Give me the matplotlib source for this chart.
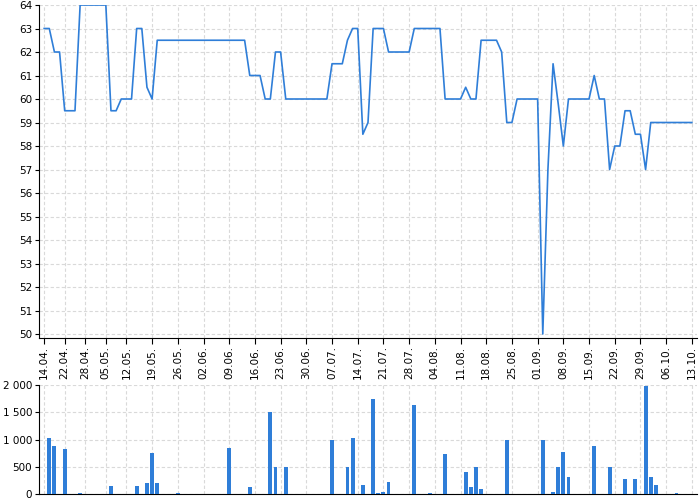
import matplotlib
matplotlib.use("Agg")
import matplotlib.pyplot as plt
from matplotlib.ticker import FuncFormatter

# ---- data ----
price = [63, 63, 62, 62, 59.5, 59.5, 59.5, 64, 64, 64, 64, 64, 64, 59.5, 59.5,
         60, 60, 60, 63, 63, 60.5, 60,
         62.5, 62.5, 62.5, 62.5, 62.5, 62.5, 62.5, 62.5, 62.5, 62.5, 62.5, 62.5,
         62.5, 62.5, 62.5, 62.5, 62.5, 62.5,
         61, 61, 61, 60, 60, 62, 62,
         60, 60, 60, 60, 60, 60, 60, 60, 60,
         61.5, 61.5, 61.5, 62.5, 63, 63, 58.5, 59, 63, 63, 63,
         62, 62, 62, 62, 62,
         63, 63, 63, 63, 63, 63,
         60, 60, 60, 60, 60.5, 60, 60,
         62.5, 62.5, 62.5, 62.5, 62, 59, 59,
         60, 60, 60, 60, 60, 50, 57, 61.5, 59.8, 58,
         60, 60, 60, 60, 60, 61, 60, 60, 57, 58, 58, 59.5, 59.5, 58.5, 58.5, 57,
         59, 59, 59, 59, 59, 59, 59, 59, 59]

volume_points = {1: 1020, 2: 880, 4: 830, 7: 10, 13: 150, 18: 150, 20: 200,
                 21: 750, 22: 200, 24: 5, 26: 15, 36: 850, 40: 120, 43: 5,
                 44: 1500, 45: 500, 47: 500, 56: 1000, 59: 500, 60: 1030,
                 62: 165, 64: 1740, 65: 20, 66: 45, 67: 215, 72: 1630, 75: 15,
                 78: 725, 82: 400, 83: 120, 84: 500, 85: 85, 90: 1000,
                 97: 1000, 99: 45, 100: 500, 101: 770, 102: 320, 107: 880,
                 110: 500, 113: 270, 115: 280, 117: 1990, 118: 320, 119: 165,
                 123: 25}
volume = [volume_points.get(i, 0) for i in range(len(price))]

tick_labels = ["14.04.", "22.04.", "28.04.", "05.05.", "12.05.", "19.05.",
               "26.05.", "02.06.", "09.06.", "16.06.", "23.06.", "30.06.",
               "07.07.", "14.07.", "21.07.", "28.07.", "04.08.", "11.08.",
               "18.08.", "25.08.", "01.09.", "08.09.", "15.09.", "22.09.",
               "29.09.", "06.10.", "13.10."]
tick_index = [0, 4, 8, 12, 16, 21, 26, 31, 36, 41, 46, 51, 56, 61, 66, 71,
              76, 81, 86, 91, 96, 101, 106, 111, 116, 121, 126]

x = list(range(len(price)))
color = "#2f7ed8"
grid_kw = dict(color="#d9d9d9", linestyle=(0, (3, 2)), linewidth=0.8)

fig = plt.figure(figsize=(7, 5), dpi=100)
ax1 = fig.add_axes([39 / 700, 1 - 338 / 500, 658 / 700, 333 / 500])
ax2 = fig.add_axes([39 / 700, 1 - 494 / 500, 658 / 700, 109 / 500])

ax1.plot(x, price, color=color, linewidth=1.2, zorder=3)
ax1.set_xlim(-1, 127)
ax1.set_ylim(49.83, 64)
ax1.set_yticks(range(50, 65))
ax1.set_xticks(tick_index)
ax1.set_xticklabels(tick_labels, rotation=90, fontsize=7.5)
ax1.tick_params(axis="y", labelsize=7.5, length=3, pad=2)
ax1.tick_params(axis="x", length=4, pad=2)
ax1.grid(True, **grid_kw)
ax1.set_axisbelow(True)
for s in ("top", "right"):
    ax1.spines[s].set_visible(False)

ax2.bar(x, volume, width=0.75, color=color, zorder=3)
ax2.set_xlim(-1, 127)
ax2.set_ylim(0, 2000)
ax2.set_yticks([0, 500, 1000, 1500, 2000])
ax2.yaxis.set_major_formatter(FuncFormatter(lambda v, p: f"{int(v):,}".replace(",", " ")))
ax2.set_xticks(tick_index)
ax2.set_xticklabels([])
ax2.tick_params(axis="x", length=0)
ax2.tick_params(axis="y", labelsize=7.5, length=3, pad=2)
ax2.grid(True, **grid_kw)
ax2.set_axisbelow(True)
for s in ("top", "right"):
    ax2.spines[s].set_visible(False)

fig.savefig("out.png", dpi=100)
